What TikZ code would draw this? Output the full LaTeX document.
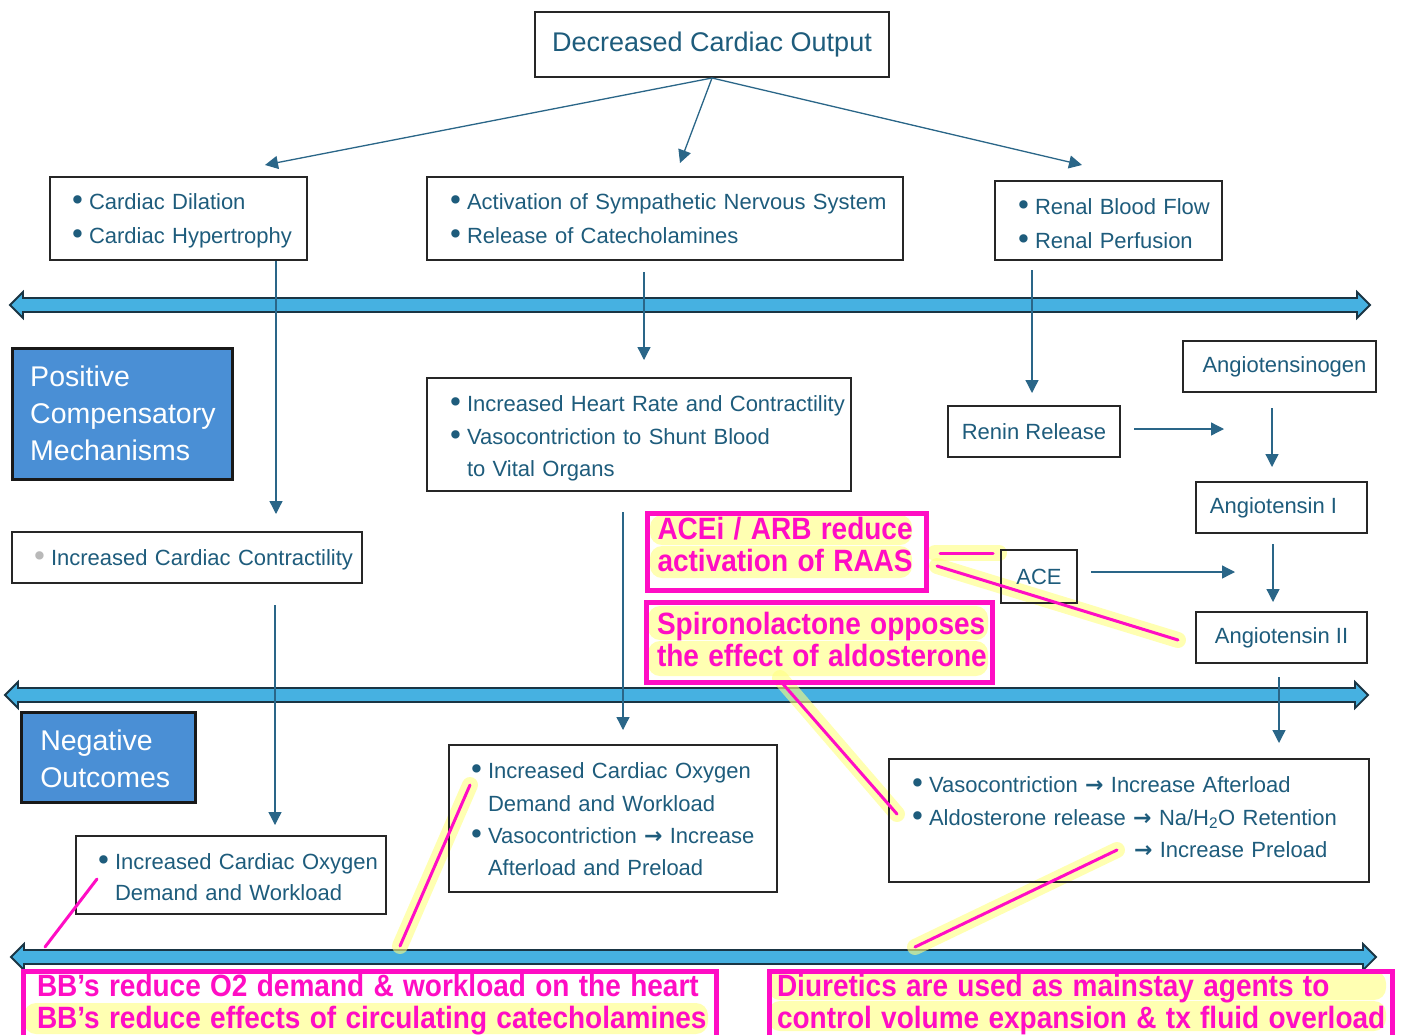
\documentclass[tikz,border=0pt]{standalone}
\usepackage{fontspec}
\usepackage{graphicx}
\setmainfont{Liberation Sans}
\newfontfamily\symfont{DejaVu Sans}
\usetikzlibrary{arrows.meta}
\definecolor{txtc}{HTML}{1E5C7C}
\definecolor{connc}{HTML}{2A6688}
\definecolor{arrfill}{HTML}{46B1E1}
\definecolor{arrdraw}{HTML}{1A3544}
\definecolor{bluec}{HTML}{4A8FD5}
\definecolor{magc}{HTML}{FF0DC4}
\definecolor{hlc}{HTML}{FFFF80}
\pgfdeclarelayer{bg}\pgfdeclarelayer{hl}
\pgfsetlayers{bg,hl,main}
\newcommand{\bdot}{\raisebox{-0.05em}{\scalebox{1.3}{\symfont •}}}
\newcommand{\rarr}{{\symfont\bfseries →}}
\newcommand{\bitem}[1]{\mbox{\makebox[20pt][l]{\bdot}#1}}
\newcommand{\citem}[1]{\mbox{\hspace*{20pt}#1}}
\newcommand{\mline}[1]{\mbox{\scalebox{1}[1.1]{#1}}}
\newcommand{\dblarr}[3]{%
  \draw[dblarrow] (#1,#3) -- (#1+13,#3-13) -- (#1+13,#3-7) -- (#2-13,#3-7) -- (#2-13,#3-13)
   -- (#2,#3) -- (#2-13,#3+13) -- (#2-13,#3+7) -- (#1+13,#3+7) -- (#1+13,#3+13) -- cycle;}
\tikzset{
  box/.style={draw=black!85, line width=2pt, text=txtc, inner ysep=0pt, font=\fontsize{22}{34}\selectfont},
  lbox/.style={box, anchor=north west, align=left, text height=0pt, text depth=0pt},
  cbox/.style={box, anchor=center, inner xsep=0pt},
  conn/.style={draw=connc, line width=1.3pt, -{Triangle[width=13pt,length=13pt]}},
  bluebox/.style={draw=black!90, line width=2.5pt, fill=bluec, text=white, anchor=north west, align=left, inner ysep=0pt, inner xsep=18pt, font=\fontsize{28.5}{37}\selectfont},
  magbox/.style={draw=magc, line width=5pt, text=magc, anchor=north west, align=left, inner ysep=0pt, text height=0pt, font=\bfseries\fontsize{28}{32}\selectfont},
  magline/.style={draw=magc, line width=3pt, line cap=round},
  hlline/.style={draw=hlc, line width=16pt, line cap=round, opacity=0.6},
  hlbox/.style={fill=hlc, rounded corners=12pt, opacity=0.6},
  dblarrow/.style={fill=arrfill, draw=arrdraw, line width=1.8pt, line join=miter},
}
\begin{document}
\begin{tikzpicture}[x=1pt,y=-1pt]
\useasboundingbox (0,0) rectangle (1403,1034);
\begin{pgfonlayer}{bg}
\fill[white] (0,0) rectangle (1403,1034);
\dblarr{10}{1370}{305}
\dblarr{5}{1368}{695}
\dblarr{11}{1376}{957}
\end{pgfonlayer}

% top
\node[cbox, minimum width=354pt, minimum height=65pt, font=\fontsize{27}{32}\selectfont] (dco) at (712,44.5) {Decreased Cardiac Output};
\node[lbox, minimum width=257pt, minimum height=83pt, inner xsep=19pt, text width=219pt, text depth=17.8pt] (b1) at (49,176)
  {\bitem{Cardiac Dilation}\\\bitem{Cardiac Hypertrophy}};
\node[lbox, minimum width=476pt, minimum height=83pt, inner xsep=20pt, text width=436pt, text depth=17.8pt] (b2) at (426,176)
  {\bitem{Activation of Sympathetic Nervous System}\\\bitem{Release of Catecholamines}};
\node[lbox, minimum width=227pt, minimum height=79pt, inner xsep=20pt, text width=187pt, text depth=11.8pt] (b3) at (994,180)
  {\bitem{Renal Blood Flow}\\\bitem{Renal Perfusion}};

% positive section
\node[bluebox, minimum width=220pt, minimum height=131pt, text width=184pt] (pcm) at (11,347)
  {\mbox{Positive}\\\mbox{Compensatory}\\\mbox{Mechanisms}};
\node[lbox, minimum width=424pt, minimum height=113pt, inner xsep=20pt, text width=384pt, text depth=45.8pt, font=\fontsize{22}{32.5}\selectfont] (b4) at (426,377)
  {\bitem{Increased Heart Rate and Contractility}\\\bitem{Vasocontriction to Shunt Blood}\\\citem{to Vital Organs}};
\node[cbox, minimum width=172pt, minimum height=51pt] (renin) at (1034,431.5) {Renin Release};
\node[cbox, minimum width=193pt, minimum height=51pt] (agen) at (1279.5,366.5) {\hspace*{10pt}Angiotensinogen};
\node[cbox, minimum width=171pt, minimum height=51pt] (ang1) at (1281.5,507.5) {Angiotensin I\hspace*{16pt}};
\node[cbox, minimum width=76pt, minimum height=53pt] (ace) at (1039,576.5) {ACE};
\node[cbox, minimum width=171pt, minimum height=51pt] (ang2) at (1281.5,637.5) {Angiotensin II};
\node[lbox, minimum width=350pt, minimum height=51pt, inner xsep=19pt, text width=312pt, text height=16.2pt] (b5) at (11,531)
  {\mbox{\makebox[20pt][l]{\textcolor{gray!55}{\bdot}}Increased Cardiac Contractility}};

\node[magbox, minimum width=279pt, minimum height=77pt, inner xsep=10.5pt, text width=258pt, text depth=24.5pt] (acei) at (644.5,510.5)
  {\mline{ACEi / ARB reduce}\\\mline{activation of RAAS}};
\node[magbox, minimum width=346pt, minimum height=80pt, inner xsep=11pt, text width=324pt, text depth=15.5pt] (spiro) at (643.5,599.5)
  {\mline{Spironolactone opposes}\\\mline{the effect of aldosterone}};

% negative section
\node[bluebox, minimum width=174pt, minimum height=90pt, inner xsep=19pt, text width=136pt, text height=0pt, text depth=12.6pt] (neg) at (20,711)
  {\mbox{Negative}\\\mbox{Outcomes}};
\node[lbox, minimum width=328pt, minimum height=147pt, inner xsep=19pt, text width=290pt, text depth=79.8pt, font=\fontsize{22}{32.4}\selectfont] (b6) at (448,744)
  {\bitem{Increased Cardiac Oxygen}\\\citem{Demand and Workload}\\\bitem{Vasocontriction \rarr{} Increase}\\\citem{Afterload and Preload}};
\node[lbox, minimum width=310pt, minimum height=78pt, inner xsep=19pt, text width=272pt, text depth=10.8pt, font=\fontsize{22}{31}\selectfont] (b7) at (75,835)
  {\bitem{Increased Cardiac Oxygen}\\\citem{Demand and Workload}};
\node[lbox, minimum width=480pt, minimum height=123pt, inner xsep=20pt, text width=440pt, text depth=55.8pt, font=\fontsize{22}{32.5}\selectfont] (b8) at (888,758)
  {\bitem{Vasocontriction \rarr{} Increase Afterload}\\\bitem{Aldosterone release \rarr{} Na/H\textsubscript{2}O Retention}\\\mbox{\hspace*{225pt}\rarr{} Increase Preload}};

\node[magbox, minimum width=693pt, minimum height=72pt, inner xsep=14pt, text width=665pt, text depth=21.5pt] (bb) at (20.5,968.5)
  {\mline{BB’s reduce O2 demand \& workload on the heart}\\\mline{BB’s reduce effects of circulating catecholamines}};
\node[magbox, minimum width=623pt, minimum height=72pt, inner xsep=8pt, text width=607pt, text depth=21.5pt] (diu) at (766.5,968.5)
  {\mline{Diuretics are used as mainstay agents to}\\\mline{control volume expansion \& tx fluid overload}};

\begin{pgfonlayer}{bg}
\fill[white] (bb.north west) rectangle (bb.south east);
\fill[white] (diu.north west) rectangle (diu.south east);
\end{pgfonlayer}

% connectors
\coordinate (p1) at (265,165);
\coordinate (p2) at (680,163);
\coordinate (p3) at (1082,165);
\draw[conn] (dco.south) -- (p1);
\draw[conn] (dco.south) -- (p2);
\draw[conn] (dco.south) -- (p3);
\coordinate (v1) at (276,514);  \draw[conn] (b1.south -| v1) -- (v1);
\coordinate (v2) at (644,360);  \draw[conn] ([yshift=-11pt]b2.south -| v2) -- (v2);
\coordinate (v3) at (1032,393); \draw[conn] ([yshift=-9pt]b3.south -| v3) -- (v3);
\coordinate (v4) at (623,730);  \draw[conn] ([yshift=-20pt]b4.south -| v4) -- (v4);
\coordinate (v5) at (275,825);  \draw[conn] ([yshift=-21pt]b5.south -| v5) -- (v5);
\coordinate (v6) at (1279,743); \draw[conn] ([yshift=-13pt]ang2.south -| v6) -- (v6);
\coordinate (h1) at (1224,429); \draw[conn] ([xshift=13pt]renin.east |- h1) -- (h1);
\coordinate (v7) at (1272,467); \draw[conn] ([yshift=-15pt]agen.south -| v7) -- (v7);
\coordinate (v8) at (1273,602); \draw[conn] ([yshift=-10pt]ang1.south -| v8) -- (v8);
\coordinate (h2) at (1235,572); \draw[conn] ([xshift=13pt]ace.east |- h2) -- (h2);

% highlights and magenta lines
\coordinate (m1a) at (940,553);  \coordinate (m1b) at (993,553);
\coordinate (m2a) at (937,566);  \coordinate (m2b) at (1178,640);
\coordinate (m3a) at (783,684);  \coordinate (m3b) at (897,814);
\coordinate (m4a) at (470,785);  \coordinate (m4b) at (400,946);
\coordinate (m5a) at (97,879);   \coordinate (m5b) at (45,947);
\coordinate (m6a) at (1117,850); \coordinate (m6b) at (915,947);
\begin{pgfonlayer}{hl}
\fill[hlbox] (650,515) rectangle (912,545);
\fill[hlbox] (650,546) rectangle (912,578);
\fill[hlbox] (648,606) rectangle (988,640);
\fill[hlbox] (648,641) rectangle (988,676);
\fill[hlbox] (24,1003) rectangle (708,1034);
\fill[hlbox] (768,971) rectangle (1386,1000);
\fill[hlbox] (768,1001) rectangle (1386,1031);
\draw[hlline] ([xshift=-5pt]m1a) -- ([xshift=6pt]m1b);
\draw[hlline] (m2a) -- (m2b);
\draw[hlline] ([shift={(-3pt,6pt)}]m3a) -- (m3b);
\draw[hlline] (m4a) -- (m4b);
\draw[hlline] (m6a) -- (m6b);
\end{pgfonlayer}
\draw[magline] (m1a) -- (m1b);
\draw[magline] (m2a) -- (m2b);
\draw[magline] (m3a) -- (m3b);
\draw[magline] (m4a) -- (m4b);
\draw[magline] (m5a) -- (m5b);
\draw[magline] (m6a) -- (m6b);
\end{tikzpicture}
\end{document}
